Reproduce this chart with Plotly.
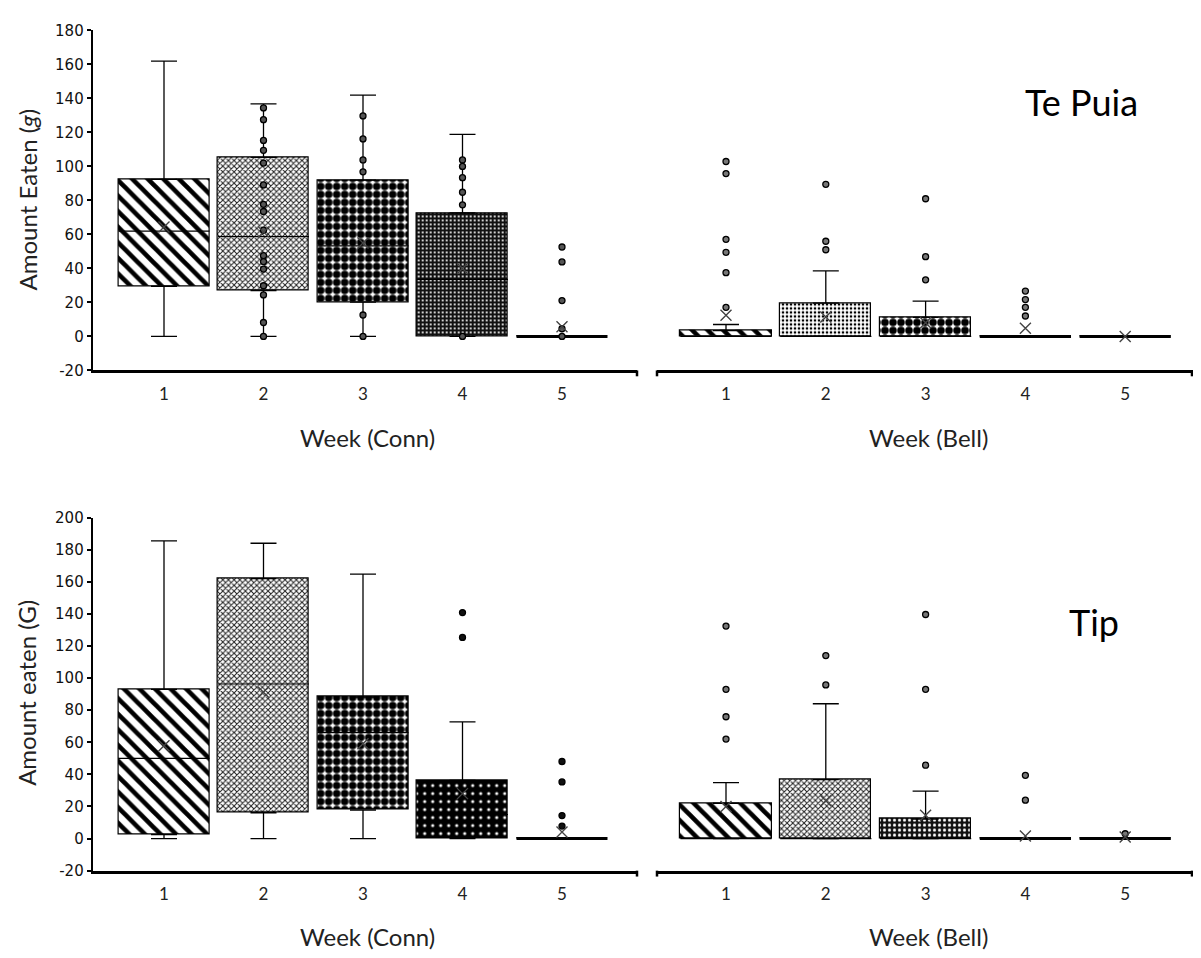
import plotly.graph_objects as go

weeks = [1, 2, 3, 4, 5]
week_labels = ["1", "2", "3", "4", "5"]
y_top_ticks = [-20, 0, 20, 40, 60, 80, 100, 120, 140, 160, 180]
y_bot_ticks = [-20, 0, 20, 40, 60, 80, 100, 120, 140, 160, 180, 200]

# ---- Te Puia, Conn (top-left) ----
tpc_low = [0, 0, 0, 0, 0]
tpc_q1 = [29.5, 27, 20.2, 0, 0]
tpc_med = [62, 58.7, 53.3, 33.5, 0]
tpc_q3 = [92.4, 105.3, 92, 72.6, 0]
tpc_high = [162, 136.8, 141.9, 118.9, 0]
tpc_mean = [64.4, 61.5, 55, 40, 5.7]
tpc_points = [
    [],
    [134.4, 127.5, 115.3, 109.5, 102, 89.1, 77.7, 73.5, 62.5, 47.5, 44, 39.6, 29.8, 24.4, 8.2, 0],
    [129.7, 116.2, 103.8, 96.8, 12.6, 0],
    [103.8, 100, 93.4, 84.8, 77.4, 0],
    [52.6, 43.8, 21.1, 4.5, 0],
]

# ---- Te Puia, Bell (top-right) ----
tpb_low = [0, 0, 0, 0, 0]
tpb_q1 = [0, 0, 0, 0, 0]
tpb_med = [0, 0, 0, 0, 0]
tpb_q3 = [3.4, 19.6, 11.2, 0, 0]
tpb_high = [7.0, 38.5, 20.8, 0, 0]
tpb_mean = [12.4, 11.4, 8, 4.8, 0]
tpb_points = [
    [102.9, 95.8, 57.1, 49.5, 37.5, 17.1],
    [89.5, 56, 51],
    [81, 46.9, 33.3],
    [26.7, 21.7, 17.1, 12],
    [],
]

# ---- Tip, Conn (bottom-left) ----
tic_low = [0, 0, 0, 0, 0]
tic_q1 = [2.4, 16.1, 17.8, 0, 0]
tic_med = [50, 96.3, 66, 15, 0]
tic_q3 = [92.9, 162, 88.2, 36.3, 0]
tic_high = [185.5, 184, 164.7, 72.7, 0]
tic_mean = [57.8, 91.2, 59, 28, 4.1]
tic_points = [
    [],
    [],
    [],
    [140.8, 125.3],
    [48, 35.3, 14.3, 7.8],
]

# ---- Tip, Bell (bottom-right) ----
tib_low = [0, 0, 0, 0, 0]
tib_q1 = [0, 0, 0, 0, 0]
tib_med = [0, 0, 0, 0, 0]
tib_q3 = [22, 36.7, 12.2, 0, 0]
tib_high = [34.9, 84, 29.6, 0, 0]
tib_mean = [20, 23.5, 14.5, 1.6, 1]
tib_points = [
    [132.4, 93, 75.9, 62],
    [114, 95.7],
    [139.6, 93, 45.7],
    [39.4, 23.9],
    [3],
]

BOXW = 0.914

# pattern styles per box (week 1..5)
pat_tpc = dict(shape=["\\", "x", ".", ".", ""], size=[11, 4, 8, 4, 8],
               solidity=[0.42, 0.45, 0.7, 0.22, 0.3],
               fgcolor=["black", "#222", "black", "white", "black"],
               bgcolor=["white", "white", "white", "#111", "white"], fillmode="replace")
pat_tpb = dict(shape=["\\", ".", ".", "", ""], size=[11, 4, 8, 8, 8],
               solidity=[0.42, 0.35, 0.7, 0.3, 0.3],
               fgcolor=["black", "black", "black", "black", "black"],
               bgcolor=["white", "white", "white", "white", "white"], fillmode="replace")
pat_tic = dict(shape=["\\", "x", ".", ".", ""], size=[11, 4, 8, 8, 8],
               solidity=[0.42, 0.45, 0.7, 0.12, 0.3],
               fgcolor=["black", "#222", "black", "white", "black"],
               bgcolor=["white", "white", "white", "black", "white"], fillmode="replace")
pat_tib = dict(shape=["\\", "x", ".", "", ""], size=[11, 4, 5, 8, 8],
               solidity=[0.42, 0.45, 0.3, 0.3, 0.3],
               fgcolor=["black", "#222", "white", "black", "black"],
               bgcolor=["white", "white", "#111", "white", "white"], fillmode="replace")

fig = go.Figure()


def add_panel(xa, ya, q1, med, q3, low, high, mean, points, pattern, ptcolor):
    fig.add_trace(go.Bar(
        x=weeks, y=[b - a for a, b in zip(q1, q3)], base=q1, width=BOXW,
        xaxis=xa, yaxis=ya, showlegend=False, hoverinfo="skip",
        marker=dict(color="white", pattern=pattern, line=dict(color="black", width=1.2)),
    ))
    mx, my, cx, cy = [], [], [], []
    for w, m, a, b in zip(weeks, med, q1, q3):
        if a == b:
            cx += [w - BOXW / 2, w + BOXW / 2, None]
            cy += [m, m, None]
        else:
            mx += [w - BOXW / 2, w + BOXW / 2, None]
            my += [m, m, None]
    fig.add_trace(go.Scatter(x=mx, y=my, mode="lines", xaxis=xa, yaxis=ya, showlegend=False,
                             line=dict(color="black", width=1.2), hoverinfo="skip"))
    fig.add_trace(go.Scatter(x=cx, y=cy, mode="lines", xaxis=xa, yaxis=ya, showlegend=False,
                             line=dict(color="black", width=3), hoverinfo="skip"))
    up = [h - b if h > b else None for h, b in zip(high, q3)]
    dn = [a - l if a > l else None for a, l in zip(q1, low)]
    fig.add_trace(go.Scatter(
        x=weeks, y=q3, mode="markers", xaxis=xa, yaxis=ya, showlegend=False, hoverinfo="skip",
        marker=dict(size=1, color="rgba(0,0,0,0)"),
        error_y=dict(type="data", symmetric=False, array=up, arrayminus=[0] * 5,
                     color="black", thickness=1.3, width=13)))
    fig.add_trace(go.Scatter(
        x=weeks, y=q1, mode="markers", xaxis=xa, yaxis=ya, showlegend=False, hoverinfo="skip",
        marker=dict(size=1, color="rgba(0,0,0,0)"),
        error_y=dict(type="data", symmetric=False, array=[0] * 5, arrayminus=dn,
                     color="black", thickness=1.3, width=13)))
    px, py = [], []
    for w, pts in zip(weeks, points):
        px += [w] * len(pts)
        py += pts
    fig.add_trace(go.Scatter(x=px, y=py, mode="markers", xaxis=xa, yaxis=ya, showlegend=False,
                             marker=dict(symbol="circle", size=6, color=ptcolor,
                                         line=dict(color="black", width=1.3))))
    fig.add_trace(go.Scatter(x=weeks, y=mean, mode="markers", xaxis=xa, yaxis=ya, showlegend=False,
                             marker=dict(symbol="x-thin", size=11, color="#444",
                                         line=dict(color="#444", width=1.4))))


add_panel("x", "y", tpc_q1, tpc_med, tpc_q3, tpc_low, tpc_high, tpc_mean, tpc_points, pat_tpc, "#555")
add_panel("x2", "y", tpb_q1, tpb_med, tpb_q3, tpb_low, tpb_high, tpb_mean, tpb_points, pat_tpb, "#777")
add_panel("x3", "y2", tic_q1, tic_med, tic_q3, tic_low, tic_high, tic_mean, tic_points, pat_tic, "#111")
add_panel("x4", "y2", tib_q1, tib_med, tib_q3, tib_low, tib_high, tib_mean, tib_points, pat_tib, "#777")

# page has an 8px body margin: the figure is sized to fit the window exactly
OFF = 8
W, H = 1201 - 2 * OFF, 958 - 2 * OFF


def fx(p):
    return (p - OFF) / W


def fy(p):
    return 1 - (p - OFF) / H


STEP_L, STEP_R = 99.5, 99.8
dom_left = [fx(92.7), fx(637)]
dom_right = [fx(657), 1.0]
dom_top = [fy(368.3), fy(21.7)]
dom_bot = [fy(878.3), fy(518.3)]
rng_left = [1 - (164 - 92.7) / STEP_L, 1 + (637 - 164) / STEP_L]
rng_right = [1 - (726 - 657) / STEP_R, 1 + (W + OFF - 726) / STEP_R]

tickfont_x = dict(family="Lato", size=17, color="#222")
tickfont_y = dict(family="DejaVu Sans", size=15, color="#111")

xcommon = dict(showline=True, linecolor="black", linewidth=2.5, showgrid=False, zeroline=False,
               tickmode="array", tickvals=weeks, ticktext=week_labels,
               ticks="outside", ticklen=6, tickcolor="rgba(0,0,0,0)", tickfont=tickfont_x,
               fixedrange=True)
ycommon = dict(showline=True, linecolor="black", linewidth=2, showgrid=False, zeroline=False,
               ticks="outside", ticklen=4, tickwidth=1.5, tickcolor="black", tickfont=tickfont_y,
               tickmode="array")

fig.update_layout(
    width=W, height=H, margin=dict(l=0, r=0, t=0, b=0),
    plot_bgcolor="white", paper_bgcolor="white", barmode="overlay", bargap=0,
    xaxis=dict(domain=dom_left, range=rng_left, anchor="y", **xcommon),
    xaxis2=dict(domain=dom_right, range=rng_right, anchor="y", **xcommon),
    xaxis3=dict(domain=dom_left, range=rng_left, anchor="y2", **xcommon),
    xaxis4=dict(domain=dom_right, range=rng_right, anchor="y2", **xcommon),
    yaxis=dict(domain=dom_top, range=[-20, 180], anchor="x", tickvals=y_top_ticks,
               ticktext=[str(v) for v in y_top_ticks], **ycommon),
    yaxis2=dict(domain=dom_bot, range=[-20, 200], anchor="x3", tickvals=y_bot_ticks,
                ticktext=[str(v) for v in y_bot_ticks], **ycommon),
)

shapes = []
for (x0, x1), yb in [(dom_left, dom_top[0]), (dom_left, dom_bot[0]),
                     (dom_right, dom_top[0]), (dom_right, dom_bot[0])]:
    for xe in ([x1] if x0 == dom_left[0] else [x0, x1 - 1 / W]):
        shapes.append(dict(type="line", xref="paper", yref="paper", x0=xe, x1=xe,
                           y0=yb, y1=yb - 6 / H, line=dict(color="black", width=2.5)))
fig.update_layout(shapes=shapes)

title_font = dict(family="Lato", size=24, color="#222")
for text, x, y in [("Week (Conn)", 367, 437), ("Week (Bell)", 928, 437),
                   ("Week (Conn)", 367, 945), ("Week (Bell)", 928, 945)]:
    fig.add_annotation(text=text, x=fx(x), y=fy(y), xref="paper", yref="paper", showarrow=False,
                       font=title_font, xanchor="center", yanchor="middle")
fig.add_annotation(text="Amount Eaten (<i>g</i>)", x=fx(27), y=fy(194), textangle=-90,
                   xref="paper", yref="paper", showarrow=False, font=title_font,
                   xanchor="center", yanchor="middle")
fig.add_annotation(text="Amount eaten (G)", x=fx(27), y=fy(697), textangle=-90,
                   xref="paper", yref="paper", showarrow=False, font=title_font,
                   xanchor="center", yanchor="middle")
fig.add_annotation(text="Te Puia", x=fx(1081), y=fy(95), xref="paper", yref="paper",
                   showarrow=False, font=dict(family="Lato", size=36, color="black"),
                   xanchor="center", yanchor="middle")
fig.add_annotation(text="Tip", x=fx(1094), y=fy(625), xref="paper", yref="paper",
                   showarrow=False, font=dict(family="Lato", size=36, color="black"),
                   xanchor="center", yanchor="middle")

fig.write_html("out.html")
